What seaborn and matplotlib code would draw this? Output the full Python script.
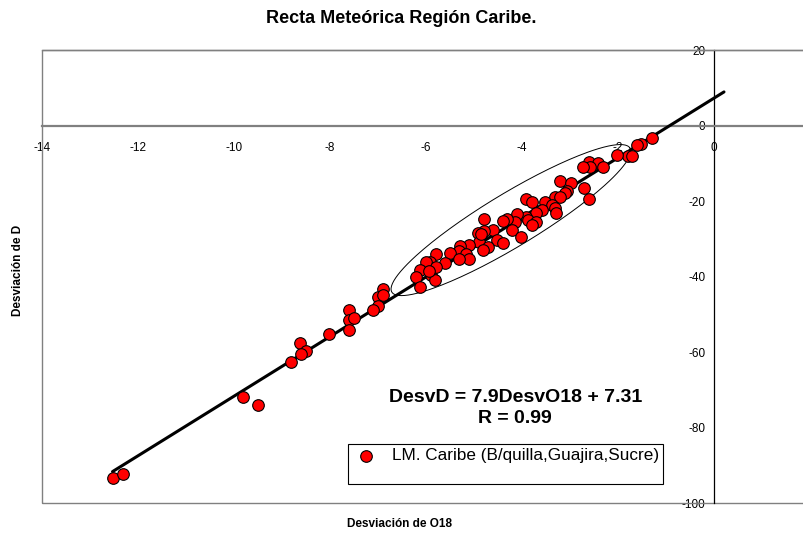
import numpy as np
import pandas as pd
import matplotlib.pyplot as plt
from matplotlib.patches import Rectangle
import seaborn as sns

# isotope deviations
desv_o18 = [-1.30, -1.51, -1.60, -1.79, -2.02, -1.70, -2.60, -2.41, -2.59, -2.31,
            -2.73, -2.71, -2.60, -3.21, -2.97, -3.07, -3.11, -3.32, -3.21, -3.52,
            -3.91, -3.80, -3.38, -3.32, -3.29, -3.59, -3.70, -3.91, -4.11, -3.87,
            -3.71, -3.80, -4.15, -4.32, -4.39, -4.20, -4.01, -4.80, -4.60, -4.80,
            -4.91, -4.52, -4.39, -4.89, -4.71, -4.81, -5.10, -5.30, -5.31, -5.50,
            -5.16, -5.10, -5.31, -5.61, -5.80, -5.91, -5.99, -6.13, -6.20, -5.89,
            -5.82, -6.12, -5.80, -5.94, -4.86,
            -6.90, -7.00, -6.90, -7.00, -7.10, -7.60, -7.60, -7.49, -7.60, -8.01,
            -8.62, -8.49, -8.60, -8.81, -9.81, -9.50, -12.51, -12.32]
desv_d = [-3.3, -4.9, -5.1, -8.0, -7.8, -8.0, -9.6, -9.8, -10.9, -11.0,
          -11.0, -16.5, -19.3, -14.6, -15.3, -17.2, -17.9, -18.8, -19.0, -20.2,
          -19.5, -20.2, -21.0, -21.9, -23.2, -22.4, -23.1, -24.1, -23.4, -25.0,
          -25.5, -26.3, -25.5, -24.8, -25.2, -27.7, -29.6, -24.6, -27.5, -27.9,
          -28.4, -30.3, -31.2, -30.8, -32.1, -33.0, -31.6, -31.9, -33.2, -33.7,
          -33.9, -35.2, -35.4, -36.3, -33.9, -36.1, -36.1, -38.3, -40.1, -39.6,
          -40.9, -42.7, -37.4, -38.5, -28.7,
          -43.4, -45.5, -44.9, -47.8, -48.9, -48.9, -51.4, -50.9, -54.2, -55.3,
          -57.6, -59.7, -60.4, -62.6, -72.0, -74.1, -93.3, -92.2]

slope = 7.9
intercept = 7.31
r_value = 0.99
series_name = 'LM. Caribe (B/quilla,Guajira,Sucre)'

x_ticks = [-14, -12, -10, -8, -6, -4, -2, 0]
y_ticks = [-100, -80, -60, -40, -20, 0, 20]

df = pd.DataFrame({'DesvO18': desv_o18, 'DesvD': desv_d})

sns.set_style('white')
plt.rcParams['font.family'] = ['Liberation Sans', 'DejaVu Sans']
plt.rcParams['text.color'] = 'black'
plt.rcParams['xtick.color'] = 'black'
plt.rcParams['ytick.color'] = 'black'

fig = plt.figure(figsize=(8.04, 5.37), dpi=100)
ax = fig.add_axes([0.0522, 0.0633, 0.9478, 0.843])
ax.set_xlim(-14, 1.877)
ax.set_ylim(-100, 20)

# trend line
xl = np.array([-12.53, 0.21])
ax.plot(xl, slope * xl + intercept, color='black', lw=2.2, zorder=3)

sns.scatterplot(data=df, x='DesvO18', y='DesvD', ax=ax, s=70, color='#ff0000',
                edgecolor='black', linewidth=0.8, label=series_name, zorder=4)

# ellipse around the main cluster
t = np.linspace(0, 2 * np.pi, 200)
cx, cy = -4.23, -25.0
ax.plot(cx + 2.48 * np.cos(t) + 0.29 * np.sin(t),
        cy + 19.1 * np.cos(t) - 6.0 * np.sin(t),
        color='black', lw=0.7, zorder=2)

# axes crossing at the origin, Excel style
ax.spines['bottom'].set_position(('data', 0))
ax.spines['left'].set_position(('data', 0))
ax.spines['right'].set_visible(False)
ax.spines['bottom'].set_color('#808080')
ax.spines['bottom'].set_linewidth(1.6)
ax.spines['left'].set_color('black')
ax.spines['left'].set_linewidth(0.9)
ax.spines['top'].set_color('#808080')
ax.spines['top'].set_linewidth(1.0)
ax.add_patch(Rectangle((0, 0), 1.2, 1, transform=ax.transAxes, fill=False,
                       edgecolor='#808080', lw=1.0, clip_on=False, zorder=1))

ax.set_xticks(x_ticks)
ax.set_yticks(y_ticks)
ax.set_xticklabels([str(v) for v in x_ticks])
ax.set_yticklabels([str(v) for v in y_ticks])
ax.tick_params(axis='x', direction='out', length=4, width=0.9, color='black',
               labelsize=8.5, pad=8)
ax.tick_params(axis='y', direction='out', length=4, width=0.9, color='black',
               labelsize=8.5, pad=2)
ax.set_xlabel('')
ax.set_ylabel('')

ax.text(-4.14, -71.9, f'DesvD = {slope}DesvO18 + {intercept}', ha='center', va='center',
        fontsize=14, fontweight='bold')
ax.text(-4.14, -77.6, f'R = {r_value}', ha='center', va='center',
        fontsize=14, fontweight='bold')

handles, labels = ax.get_legend_handles_labels()
blank = plt.Line2D([], [], linestyle='none', marker=None)
leg = ax.legend(handles[:1] + [blank], [series_name, ' '], loc='upper left',
                bbox_to_anchor=(0.4016, 0.130), fancybox=False, edgecolor='black',
                framealpha=1, fontsize=12.3, borderpad=0.25, labelspacing=0.05,
                handletextpad=0.7, handlelength=1.6, borderaxespad=0)
leg.get_frame().set_linewidth(0.8)

fig.text(0.4988, 0.966, 'Recta Meteórica Región Caribe.', ha='center', va='center',
         fontsize=13, fontweight='bold')
fig.text(0.4975, 0.024, 'Desviación de O18', ha='center', va='center',
         fontsize=8.5, fontweight='bold')
fig.text(0.0224, 0.497, 'Desviación de D', ha='center', va='center', rotation=90,
         fontsize=8.5, fontweight='bold')

fig.savefig('out.png', dpi=100)
